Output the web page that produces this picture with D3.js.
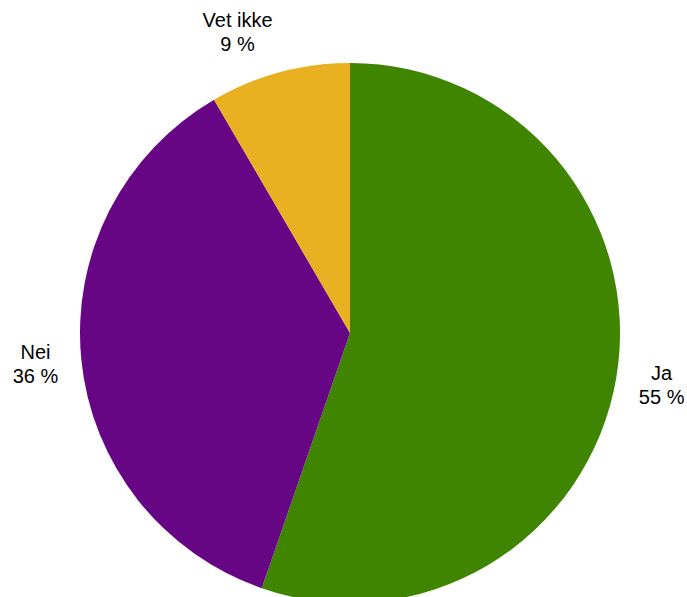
<!DOCTYPE html>
<html><head><meta charset="utf-8">
<script src="https://cdn.jsdelivr.net/npm/d3@7"></script>
<style>body{margin:0;background:#fff}svg{display:block}</style>
</head><body>
<script>
const categories = ["Ja", "Nei", "Vet ikke"];
const values = [55.3, 36.3, 8.4];
const labels = ["55 %", "36 %", "9 %"];
const colors = ["#3f8500", "#670685", "#e9b121"];

const W = 687, H = 597, cx = 350, cy = 333, R = 270, LR = 316;
const svg = d3.select("body").append("svg").attr("width", W).attr("height", H);
const data = categories.map((c, i) => ({cat: c, value: values[i], label: labels[i], color: colors[i]}));
const pie = d3.pie().value(d => d.value).sort(null);
const arc = d3.arc().innerRadius(0).outerRadius(R);
const arcs = pie(data);
const g = svg.append("g").attr("transform", `translate(${cx},${cy})`);
g.selectAll("path").data(arcs).enter().append("path")
  .attr("d", arc).attr("fill", d => d.data.color);
const labelOffset = {"Vet ikke": [-30, 4]};
const t = g.selectAll("text").data(arcs).enter().append("text")
  .attr("font-family", "Liberation Sans, Arial, sans-serif")
  .attr("font-size", 20).attr("fill", "#000").attr("text-anchor", "middle")
  .attr("transform", d => {
    const a = (d.startAngle + d.endAngle) / 2;
    const off = labelOffset[d.data.cat] || [0, 0];
    return `translate(${LR * Math.sin(a) + off[0]},${-LR * Math.cos(a) + off[1]})`;
  });
t.append("tspan").attr("x", 0).attr("dy", "-0.25em").text(d => d.data.cat);
t.append("tspan").attr("x", 0).attr("dy", "1.2em").text(d => d.data.label);
</script>
</body></html>
